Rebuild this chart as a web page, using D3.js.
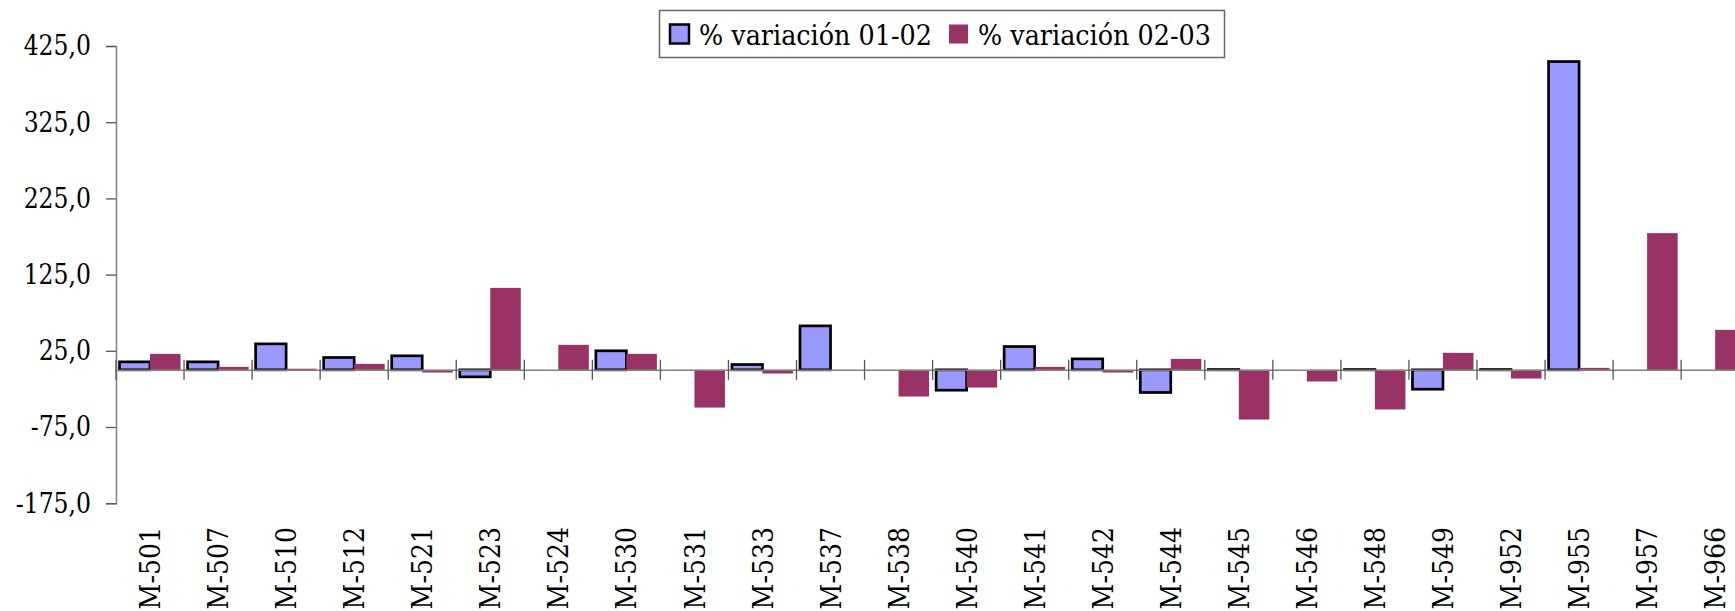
<!DOCTYPE html>
<html>
<head>
<meta charset="utf-8">
<script src="https://cdn.jsdelivr.net/npm/d3@7"></script>
<style>
    body { margin: 0; background: #fff; }
    svg { display: block; }
    svg text { font-family: 'DejaVu Serif', serif !important; }
</style>
</head>
<body>
<div id="chart"></div>
<script>
const categories = ['M-501', 'M-507', 'M-510', 'M-512', 'M-521', 'M-523', 'M-524', 'M-530',
    'M-531', 'M-533', 'M-537', 'M-538', 'M-540', 'M-541', 'M-542', 'M-544', 'M-545',
    'M-546', 'M-548', 'M-549', 'M-952', 'M-955', 'M-957', 'M-966'];

const serieNames = ['% variación 01-02', '% variación 02-03'];

const var0102 = [10.5, 10.5, 34.1, 16.2, 18.4, -9.2, null, 25.0, null, 7.0, 57.7, null,
    -26.7, 30.6, 14.4, -29.7, 0.4, null, 0.4, -25.4, 0.4, 404.6, null, null];

const var0203 = [21.0, 3.9, 1.5, 7.9, -3.5, 107.6, 32.8, 21.0, -49.5, -4.8, 0, -35.0,
    -23.2, 3.9, -3.5, 14.4, -65.2, -15.3, -52.0, 22.3, -11.4, 2.6, 179.4, 52.5];

const yTicks = [-175, -75, 25, 125, 225, 325, 425];

const width = 1735;
const height = 611;
const plotLeft = 116;
const bandStep = 68.05;
const colors = ['#9999ff', '#993366'];
const axisColor = '#808080';

const svg = d3.select('#chart')
    .append('svg')
    .attr('width', width)
    .attr('height', height)
    .style('background', '#fff');

// la fuente serif disponible es más ancha que Times: se estrecha el texto
function squeeze(selection, k) {
    selection.each(function () {
        const w = this.getComputedTextLength();
        d3.select(this)
            .attr('textLength', w * k)
            .attr('lengthAdjust', 'spacingAndGlyphs');
    });
}

const x = d3.scaleBand()
    .domain(categories)
    .range([plotLeft, plotLeft + bandStep * categories.length])
    .padding(0);

const xInner = d3.scaleBand()
    .domain([0, 1])
    .range([0, x.bandwidth()])
    .paddingInner(0)
    .paddingOuter(0.115);

const y = d3.scaleLinear()
    .domain([-175, 425])
    .range([503.2, 46]);

// eje Y
const yAxis = svg.append('g')
    .attr('transform', `translate(${plotLeft},0)`)
    .call(d3.axisLeft(y)
        .tickValues(yTicks)
        .tickSize(10)
        .tickPadding(15)
        .tickFormat(d => d.toFixed(1).replace('.', ',')));

yAxis.attr('font-family', null);
yAxis.select('.domain').attr('stroke', axisColor).attr('stroke-width', 1.5);
yAxis.selectAll('.tick line').attr('stroke', '#555').attr('stroke-width', 1.3);
yAxis.selectAll('.tick text')
    .style('font-size', '28px')
    .attr('fill', '#000')
    .call(squeeze, 0.84);

// barras
const rows = categories.map((c, i) => ({ cat: c, values: [var0102[i], var0203[i]] }));

const groups = svg.append('g')
    .selectAll('g')
    .data(rows)
    .enter()
    .append('g')
    .attr('transform', d => `translate(${x(d.cat)},0)`);

groups.selectAll('rect')
    .data(d => d.values.map((v, k) => ({ k, v })).filter(e => e.v !== null))
    .enter()
    .append('rect')
    .attr('x', d => xInner(d.k))
    .attr('width', xInner.bandwidth())
    .attr('y', d => y(Math.max(d.v, 0)))
    .attr('height', d => Math.abs(y(d.v) - y(0)))
    .attr('fill', d => colors[d.k])
    .attr('stroke', d => d.k === 0 ? '#000' : 'none')
    .attr('stroke-width', 2.7);

// eje de categorías en el cero
const xAxis = svg.append('g')
    .attr('transform', `translate(0,${y(0)})`)
    .call(d3.axisBottom(x).tickSize(0).tickFormat(''));

xAxis.select('.domain').attr('stroke', axisColor).attr('stroke-width', 1.5);

svg.append('g')
    .selectAll('line')
    .data(categories.map((c, i) => plotLeft + i * bandStep).concat([plotLeft + categories.length * bandStep]))
    .enter()
    .append('line')
    .attr('x1', d => d)
    .attr('x2', d => d)
    .attr('y1', y(0) - 10)
    .attr('y2', y(0) + 10)
    .attr('stroke', '#555')
    .attr('stroke-width', 1.3);

svg.append('g')
    .selectAll('text')
    .data(categories)
    .enter()
    .append('text')
    .attr('transform', d => `translate(${x(d) + x.bandwidth() / 2},527) rotate(-90)`)
    .attr('text-anchor', 'end')
    .attr('dy', '0.36em')
    .style('font-size', '28px')
    .attr('fill', '#000')
    .text(d => d)
    .call(squeeze, 0.9);

// leyenda
const legend = svg.append('g');

legend.append('rect')
    .attr('x', 659.5)
    .attr('y', 10.5)
    .attr('width', 565)
    .attr('height', 47)
    .attr('fill', '#fff')
    .attr('stroke', '#666')
    .attr('stroke-width', 1.5);

const legendItems = [
    { name: serieNames[0], color: colors[0], sx: 670, tx: 699 },
    { name: serieNames[1], color: colors[1], sx: 949, tx: 978 }
];

legend.selectAll('rect.sw')
    .data(legendItems)
    .enter()
    .append('rect')
    .attr('class', 'sw')
    .attr('x', d => d.sx)
    .attr('y', 24.5)
    .attr('width', 19)
    .attr('height', 19)
    .attr('fill', d => d.color)
    .attr('stroke', (d, i) => i === 0 ? '#000' : 'none')
    .attr('stroke-width', 2.5);

legend.selectAll('text')
    .data(legendItems)
    .enter()
    .append('text')
    .attr('x', d => d.tx)
    .attr('y', 45)
    .style('font-size', '28px')
    .attr('fill', '#000')
    .attr('textLength', 233)
    .attr('lengthAdjust', 'spacingAndGlyphs')
    .text(d => d.name);
</script>
</body>
</html>
